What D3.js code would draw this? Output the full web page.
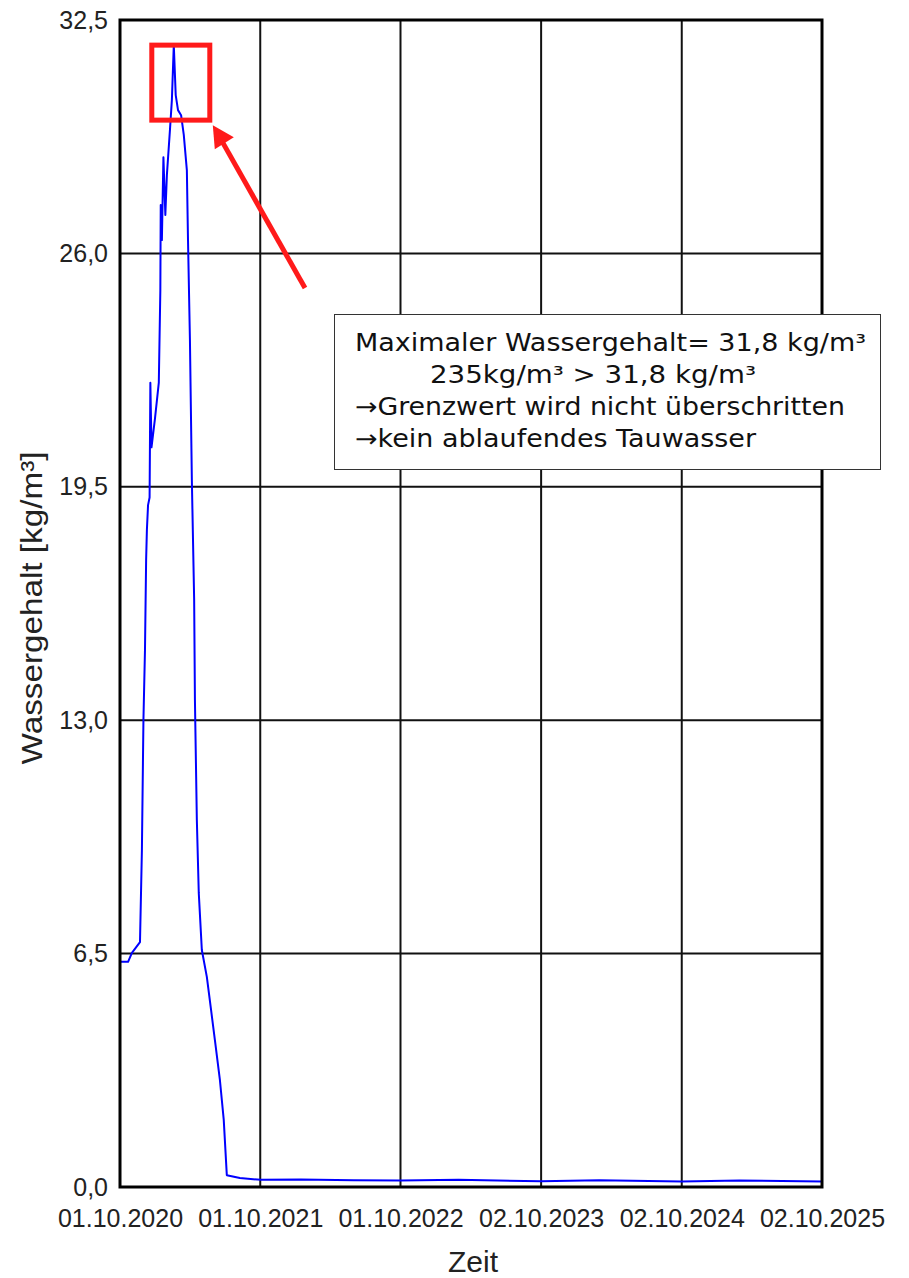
<!DOCTYPE html>
<html>
<head>
<meta charset="utf-8">
<script src="https://cdn.jsdelivr.net/npm/d3@7"></script>
<style>
  html, body { margin: 0; padding: 0; background: #fff; }
  svg { display: block; }
</style>
</head>
<body>
<svg id="chart" width="909" height="1278"></svg>
<script>
// Water content over time (kg/m³)
const dates = [
  "2020-10-01","2020-10-22","2020-11-01","2020-11-22","2020-11-27","2020-12-01",
  "2020-12-05","2020-12-08","2020-12-10","2020-12-13","2020-12-17","2020-12-19",
  "2020-12-22","2020-12-31","2021-01-10","2021-01-14","2021-01-15","2021-01-18",
  "2021-01-22","2021-01-27","2021-01-31","2021-02-08","2021-02-13","2021-02-18",
  "2021-02-23","2021-03-01","2021-03-09","2021-03-16","2021-03-24","2021-03-27",
  "2021-04-01","2021-04-06","2021-04-12","2021-04-14","2021-04-19","2021-04-24",
  "2021-05-02","2021-05-15","2021-05-26","2021-06-05","2021-06-18","2021-06-28",
  "2021-07-06","2021-08-09","2021-10-03","2022-01-15","2022-06-01","2022-10-01",
  "2023-03-01","2023-10-02","2024-03-01","2024-10-02","2025-03-01","2025-10-02"
];
const waterContent = [
  6.27, 6.27, 6.52, 6.82, 9.38, 13.0,
  14.95, 17.46, 18.3, 18.99, 19.2, 22.4,
  20.6, 21.4, 22.4, 24.98, 27.35, 26.37,
  28.68, 27.07, 28.18, 29.44, 30.27, 31.8,
  30.41, 29.99, 29.85, 29.3, 28.32, 26.37,
  23.59, 19.69, 16.35, 13.56, 10.22, 8.19,
  6.6, 5.85, 4.93, 4.09, 2.98, 1.87,
  0.33, 0.25, 0.2, 0.21, 0.19, 0.18,
  0.2, 0.16, 0.19, 0.15, 0.18, 0.15
];
const xTickDates = ["2020-10-01","2021-10-01","2022-10-01","2023-10-02","2024-10-02","2025-10-02"];
const yTicks = [0, 6.5, 13.0, 19.5, 26.0, 32.5];
const peakValue = 31.8;
const noteLines = [
  "Maximaler Wassergehalt= 31,8 kg/m³",
  "235kg/m³ > 31,8 kg/m³",
  "→Grenzwert wird nicht überschritten",
  "→kein ablaufendes Tauwasser"
];

const parse = d3.timeParse("%Y-%m-%d");
const fmtDate = d3.timeFormat("%d.%m.%Y");
const fmtNum = v => v.toFixed(1).replace(".", ",");

const margin = {left: 120, top: 20, right: 87, bottom: 91};
const W = 909, H = 1278;
const iw = W - margin.left - margin.right;
const ih = H - margin.top - margin.bottom;

const svg = d3.select("#chart");
const g = svg.append("g").attr("transform", `translate(${margin.left},${margin.top})`);

const x = d3.scaleTime()
  .domain([parse(xTickDates[0]), parse(xTickDates[xTickDates.length - 1])])
  .range([0, iw]);
const y = d3.scaleLinear().domain([0, 32.5]).range([ih, 0]);

const series = dates.map((d, i) => ({date: parse(d), value: waterContent[i]}));

// grid
g.append("g").selectAll("line")
  .data(xTickDates.slice(1, -1).map(parse))
  .join("line")
  .attr("x1", d => x(d)).attr("x2", d => x(d))
  .attr("y1", 0).attr("y2", ih)
  .attr("stroke", "#111").attr("stroke-width", 2);
g.append("g").selectAll("line")
  .data(yTicks.slice(1, -1))
  .join("line")
  .attr("x1", 0).attr("x2", iw)
  .attr("y1", d => y(d)).attr("y2", d => y(d))
  .attr("stroke", "#111").attr("stroke-width", 2);

// axes (labels only, frame drawn separately)
const font = "'Liberation Sans', Arial, sans-serif";
const yAxis = g.append("g")
  .call(d3.axisLeft(y).tickValues(yTicks).tickFormat(fmtNum).tickSize(0).tickPadding(12));
yAxis.select(".domain").remove();
yAxis.selectAll("text").attr("font-family", font).attr("font-size", 25).attr("fill", "#222");

const xAxis = g.append("g").attr("transform", `translate(0,${ih})`)
  .call(d3.axisBottom(x).tickValues(xTickDates.map(parse)).tickFormat(fmtDate).tickSize(0).tickPadding(22));
xAxis.select(".domain").remove();
xAxis.selectAll("text").attr("font-family", font).attr("font-size", 25).attr("fill", "#222");

// data line
g.append("path")
  .datum(series)
  .attr("fill", "none")
  .attr("stroke", "#0000ff")
  .attr("stroke-width", 2)
  .attr("stroke-linejoin", "round")
  .attr("d", d3.line().x(d => x(d.date)).y(d => y(d.value)));

// frame
g.append("rect")
  .attr("x", 0).attr("y", 0).attr("width", iw).attr("height", ih)
  .attr("fill", "none").attr("stroke", "#000").attr("stroke-width", 3);

// axis titles
svg.append("text")
  .attr("x", 473).attr("y", 1272)
  .attr("text-anchor", "middle")
  .attr("font-family", font).attr("font-size", 30).attr("fill", "#222")
  .text("Zeit");
svg.append("text")
  .attr("transform", "translate(42,608) rotate(-90)")
  .attr("text-anchor", "middle")
  .attr("font-family", font).attr("font-size", 30).attr("fill", "#222")
  .attr("textLength", 313).attr("lengthAdjust", "spacingAndGlyphs")
  .text("Wassergehalt [kg/m³]");

// highlight around the maximum
const peak = series.find(d => d.value === peakValue);
const px = margin.left + x(peak.date), py = margin.top + y(peak.value);
svg.append("rect")
  .attr("x", px - 22).attr("y", py)
  .attr("width", 58).attr("height", 75)
  .attr("fill", "none").attr("stroke", "#ff1a1a").attr("stroke-width", 5);

// arrow pointing to the box
const tip = [px + 39, py + 80], tail = [305, 288];
svg.append("line")
  .attr("x1", tail[0]).attr("y1", tail[1])
  .attr("x2", tip[0] + 8).attr("y2", tip[1] + 14)
  .attr("stroke", "#ff1a1a").attr("stroke-width", 5);
svg.append("polygon")
  .attr("points", [[tip[0], tip[1]], [tip[0] + 2, tip[1] + 24], [tip[0] + 21, tip[1] + 12]].map(p => p.join(",")).join(" "))
  .attr("fill", "#ff1a1a");

// note box
const note = svg.append("g");
note.append("rect")
  .attr("x", 334.5).attr("y", 314.5).attr("width", 546).attr("height", 155)
  .attr("fill", "#fff").attr("stroke", "#333").attr("stroke-width", 1);
const noteX = [355, 430, 355, 355];
const noteW = [511, 326, 490, 401];
note.selectAll("text").data(noteLines).join("text")
  .attr("x", (d, i) => noteX[i])
  .attr("y", (d, i) => 351 + i * 32)
  .attr("font-family", "'DejaVu Sans', Verdana, sans-serif")
  .attr("font-size", 24).attr("fill", "#111")
  .attr("textLength", (d, i) => noteW[i]).attr("lengthAdjust", "spacingAndGlyphs")
  .text(d => d);
</script>
</body>
</html>
